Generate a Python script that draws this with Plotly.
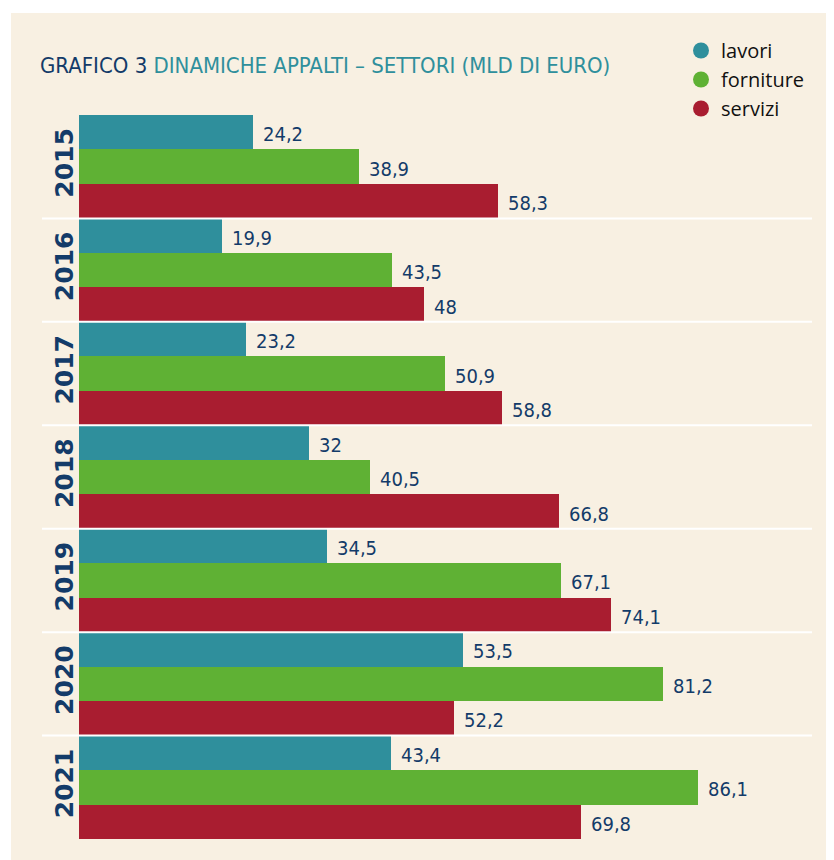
import plotly.graph_objects as go

years = ["2015", "2016", "2017", "2018", "2019", "2020", "2021"]
lavori = [24.2, 19.9, 23.2, 32.0, 34.5, 53.5, 43.4]
forniture = [38.9, 43.5, 50.9, 40.5, 67.1, 81.2, 86.1]
servizi = [58.3, 48.0, 58.8, 66.8, 74.1, 52.2, 69.8]
series_names = ["lavori", "forniture", "servizi"]
series_values = [lavori, forniture, servizi]
colors = ["#2F8F9C", "#5FB134", "#A91D30"]

NAVY = "#133B69"
TEAL = "#2F8F9C"
CREAM = "#F8F0E2"
BAR_PX = 34.5
NARROW = "DejaVu Sans Condensed, Liberation Sans Narrow, Arial Narrow, sans-serif"

# page is offset by an 8px body margin
OFF = 8
W, H = 834 - OFF, 860 - OFF
PL, PT, PW, PH = 79, 115, 715, 724  # plot area in page pixels


def fmt(v):
    s = ("%.1f" % v).replace(".", ",")
    if s.endswith(",0"):
        s = s[:-2]
    return s


def px(xp):
    return (xp - PL) / PW


def py(yp):
    return (PT + PH - yp) / PH


fig = go.Figure()
for name, vals, col in zip(series_names, series_values, colors):
    fig.add_trace(go.Bar(
        y=years, x=vals, orientation="h", name=name,
        marker=dict(color=col, line=dict(width=0)),
        showlegend=False, hoverinfo="x+y"))

# legend entries with round markers (on hidden secondary axes)
for name, col in zip(series_names, colors):
    fig.add_trace(go.Scatter(
        x=[None], y=[None], mode="markers", name=name,
        xaxis="x2", yaxis="y2", hoverinfo="skip",
        marker=dict(color=col, size=16, symbol="circle")))

annotations = []
for k, vals in enumerate(series_values):
    for i, v in enumerate(vals):
        annotations.append(dict(
            x=v, y=i, xref="x", yref="y", text=fmt(v), showarrow=False,
            xanchor="left", yanchor="middle", xshift=8,
            yshift=-(k - 1) * BAR_PX - 2,
            font=dict(family=NARROW, size=20, color=NAVY)))

shapes = [dict(type="rect", xref="paper", yref="paper",
               x0=px(11), x1=px(860), y0=py(880), y1=py(13),
               fillcolor=CREAM, line=dict(width=0), layer="below")]
for i in range(len(years) - 1):
    shapes.append(dict(type="line", xref="paper", yref="y",
                       x0=px(42), x1=px(812),
                       y0=i + 0.5, y1=i + 0.5,
                       line=dict(color="#FFFFFF", width=2), layer="above"))

fig.update_layout(
    width=W, height=H,
    margin=dict(l=PL - OFF, r=W - (PL - OFF) - PW, t=PT - OFF,
                b=H - (PT - OFF) - PH),
    paper_bgcolor="#FFFFFF", plot_bgcolor="rgba(0,0,0,0)",
    barmode="group", bargap=0, bargroupgap=0,
    title=dict(
        text=("<span style='color:%s'>GRAFICO 3</span> "
              "<span style='color:%s'>DINAMICHE APPALTI – SETTORI (MLD DI EURO)</span>")
        % (NAVY, TEAL),
        x=(40 - OFF) / W, xanchor="left", xref="container",
        y=1 - (65 - OFF) / H, yanchor="middle", yref="container",
        font=dict(family=NARROW, size=22)),
    xaxis=dict(range=[0, 99.5], visible=False, fixedrange=True),
    yaxis=dict(type="category", categoryorder="array", categoryarray=years,
               range=[len(years) - 0.5, -0.5], tickangle=-90, showgrid=False,
               zeroline=False, showline=False, ticks="", ticklen=0,
               tickfont=dict(family="DejaVu Sans", size=25, color=NAVY,
                             weight="bold")),
    xaxis2=dict(visible=False, overlaying="x", range=[0, 1]),
    yaxis2=dict(visible=False, overlaying="y", range=[0, 1]),
    legend=dict(x=px(681), xanchor="left", y=py(31),
                yanchor="top", bgcolor="rgba(0,0,0,0)",
                font=dict(family="Open Sans", size=20, color="#111111"),
                itemclick=False, tracegroupgap=0),
    annotations=annotations, shapes=shapes,
)

fig.write_html("out.html")
